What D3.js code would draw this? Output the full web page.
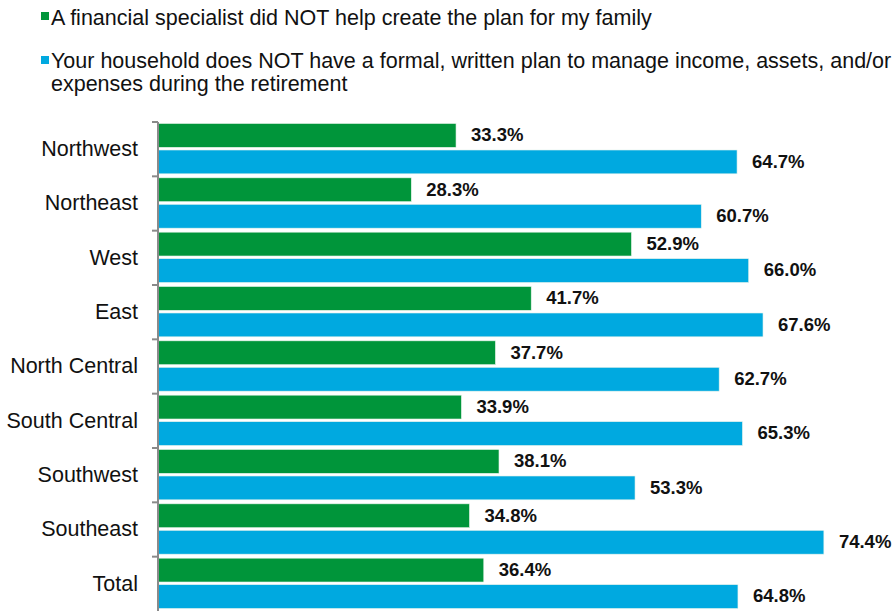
<!DOCTYPE html>
<html><head><meta charset="utf-8">
<script src="https://cdn.jsdelivr.net/npm/d3@7"></script>
<style>body{margin:0;background:#fff;} svg{display:block;font-family:"Liberation Sans",Arial,sans-serif;}</style>
</head><body>
<svg id="c" width="894" height="611"></svg>
<script>
const categories = ["Northwest","Northeast","West","East","North Central","South Central","Southwest","Southeast","Total"];
const seriesNames = ["A financial specialist did NOT help create the plan for my family",
  "Your household does NOT have a formal, written plan to manage income, assets, and/or expenses during the retirement"];
const noSpecialist = [33.3,28.3,52.9,41.7,37.7,33.9,38.1,34.8,36.4];
const noPlan = [64.7,60.7,66.0,67.6,62.7,65.3,53.3,74.4,64.8];
const colors = ["#00953a","#00a9e0"];

const svg = d3.select("#c");
const x = d3.scaleLinear().domain([0,100]).range([158,1053]);
const y = d3.scaleBand().domain(categories).range([122,611]).paddingInner(0).paddingOuter(0);
const inner = d3.scaleBand().domain([0,1]).range([1.5, y.bandwidth()-2.5]).paddingInner(0.1);

const data = categories.map((c,i)=>({c, vals:[noSpecialist[i], noPlan[i]]}));

const g = svg.append("g");
data.forEach(d=>{
  d.vals.forEach((v,k)=>{
    const yy = y(d.c)+inner(k);
    g.append("rect").attr("x",x(0)).attr("y",yy).attr("width",x(v)-x(0)).attr("height",inner.bandwidth())
      .attr("fill",colors[k]).attr("stroke","#e8f4ec").attr("stroke-width",0.6);
    g.append("text").attr("x",x(v)+15).attr("y",yy+inner.bandwidth()/2+1)
      .attr("dominant-baseline","middle").attr("font-size",18.5).attr("font-weight","bold")
      .attr("fill","#111").text(v.toFixed(1)+"%");
  });
});

// axis
const ax = svg.append("g").attr("transform","translate(158,0)")
  .call(d3.axisLeft(y).tickSize(0).tickPadding(20));
ax.select(".domain").remove();
ax.selectAll("text").attr("font-size",21.5).attr("fill","#111").attr("font-family","Liberation Sans, Arial, sans-serif");
svg.append("line").attr("x1",158).attr("x2",158).attr("y1",122).attr("y2",611).attr("stroke","#8a8a8a").attr("stroke-width",2);
categories.forEach(c=>{
  svg.append("line").attr("x1",152).attr("x2",158).attr("y1",y(c)).attr("y2",y(c)).attr("stroke","#8a8a8a").attr("stroke-width",2);
});

// legend
const leg = svg.append("g").attr("font-size",21.5).attr("fill","#111");
leg.append("rect").attr("x",41).attr("y",12).attr("width",8).attr("height",8).attr("fill",colors[0]);
leg.append("text").attr("x",51).attr("y",24.5).text(seriesNames[0]);
leg.append("rect").attr("x",41).attr("y",56).attr("width",8).attr("height",8).attr("fill",colors[1]);
leg.append("text").attr("x",51).attr("y",67.5).text("Your household does NOT have a formal, written plan to manage income, assets, and/or");
leg.append("text").attr("x",51).attr("y",91).text("expenses during the retirement");
</script>
</body></html>
